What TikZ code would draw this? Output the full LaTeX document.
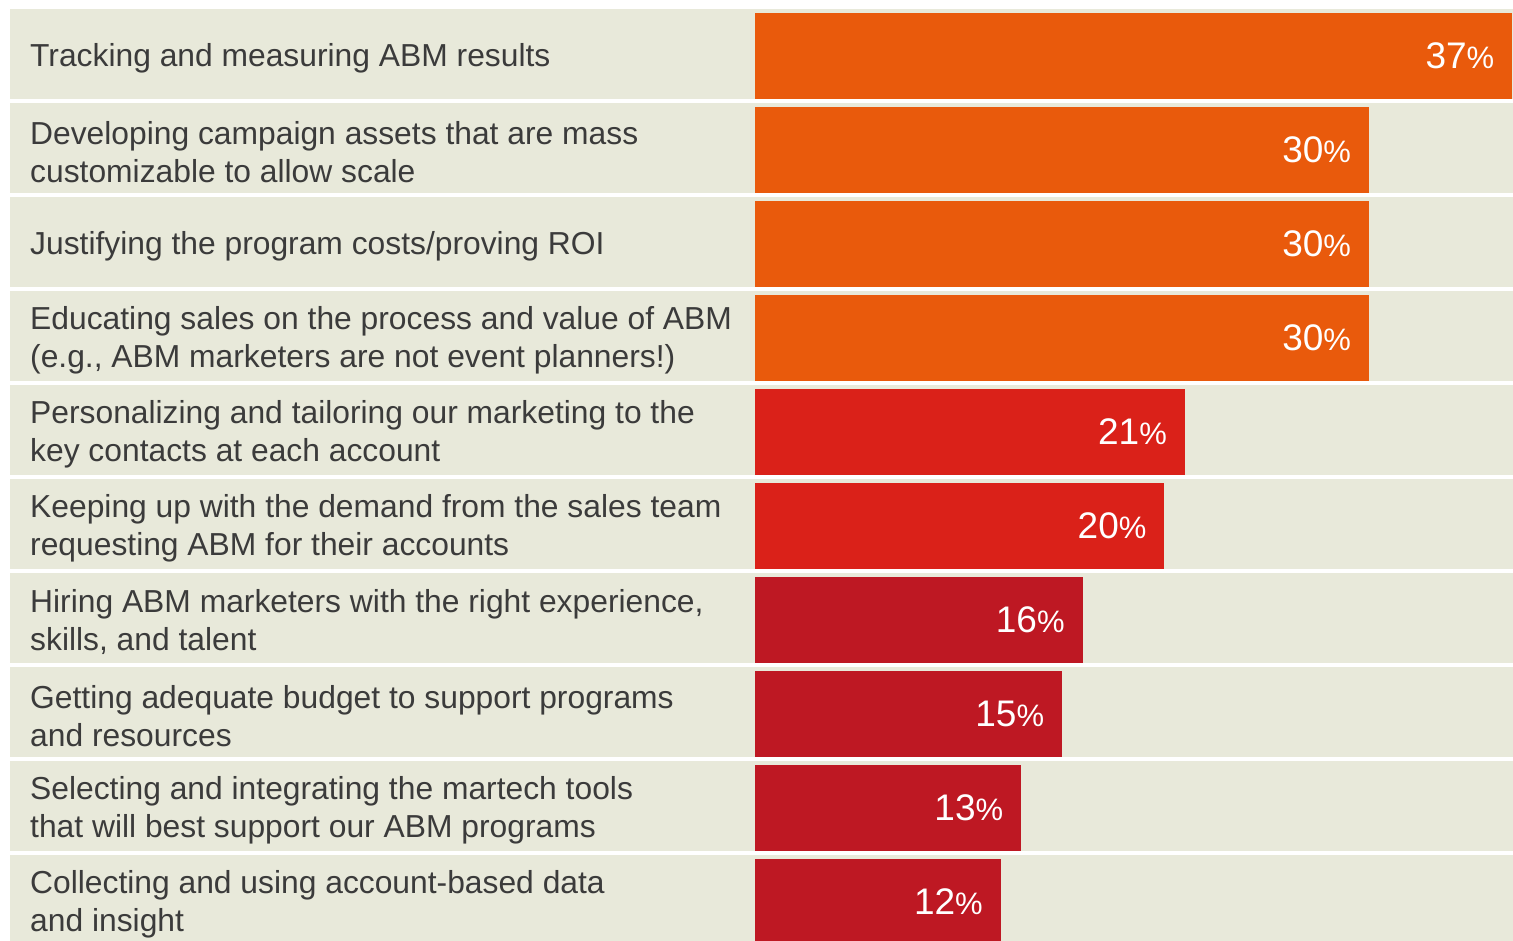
\documentclass[tikz,border=0pt]{standalone}
\usepackage{fontspec}
\setmainfont{Liberation Sans}
\usepackage{xcolor}
\usetikzlibrary{positioning}

\definecolor{rowbg}{HTML}{E8E9DA}
\definecolor{itemgray}{HTML}{3B3B3B}
\definecolor{barorange}{HTML}{E95A0C}
\definecolor{barred}{HTML}{DA2119}
\definecolor{bardark}{HTML}{BE1823}

\begin{document}
\begin{tikzpicture}[x=1pt, y=-1pt,
  rowbox/.style={fill=rowbg, draw=none, inner sep=0pt, minimum width=1503pt, minimum height=90pt, anchor=north west},
  bar/.style={draw=none, inner sep=0pt, minimum height=86pt, anchor=south west},
  item/.style={anchor=west, align=left, text=itemgray, inner sep=0pt, yshift=-4pt, font=\fontsize{31.8}{38.5}\selectfont},
  pct/.style={anchor=east, text=white, inner sep=0pt}]

  \clip (0,0) rectangle (1513,940);
  \fill[white] (0,0) rectangle (1513,940);

  \foreach \i/\v/\c/\t in {
    0/37/barorange/{Tracking and measuring ABM results},
    1/30/barorange/{Developing campaign assets that are mass\\customizable to allow scale},
    2/30/barorange/{Justifying the program costs/proving ROI},
    3/30/barorange/{Educating sales on the process and value of ABM\\(e.g., ABM marketers are not event planners!)},
    4/21/barred/{Personalizing and tailoring our marketing to the\\key contacts at each account},
    5/20/barred/{Keeping up with the demand from the sales team\\requesting ABM for their accounts},
    6/16/bardark/{Hiring ABM marketers with the right experience,\\skills, and talent},
    7/15/bardark/{Getting adequate budget to support programs\\and resources},
    8/13/bardark/{Selecting and integrating the martech tools\\that will best support our ABM programs},
    9/12/bardark/{Collecting and using account-based data\\and insight}}{
    \pgfmathsetmacro\ry{9+94*\i}
    \pgfmathsetmacro\w{\v*20.46}
    \node[rowbox] (row\i) at (10,\ry) {};
    \node[bar, fill=\c, minimum width=\w pt] (bar\i) at (755,\ry+90) {};
    \node[item, right=20pt of row\i.west] (txt\i) {\t};
    \node[pct, left=18pt of bar\i.east] (lab\i)
      {\fontsize{37}{37}\selectfont\v\fontsize{31}{31}\selectfont\%};
  }

\end{tikzpicture}
\end{document}
